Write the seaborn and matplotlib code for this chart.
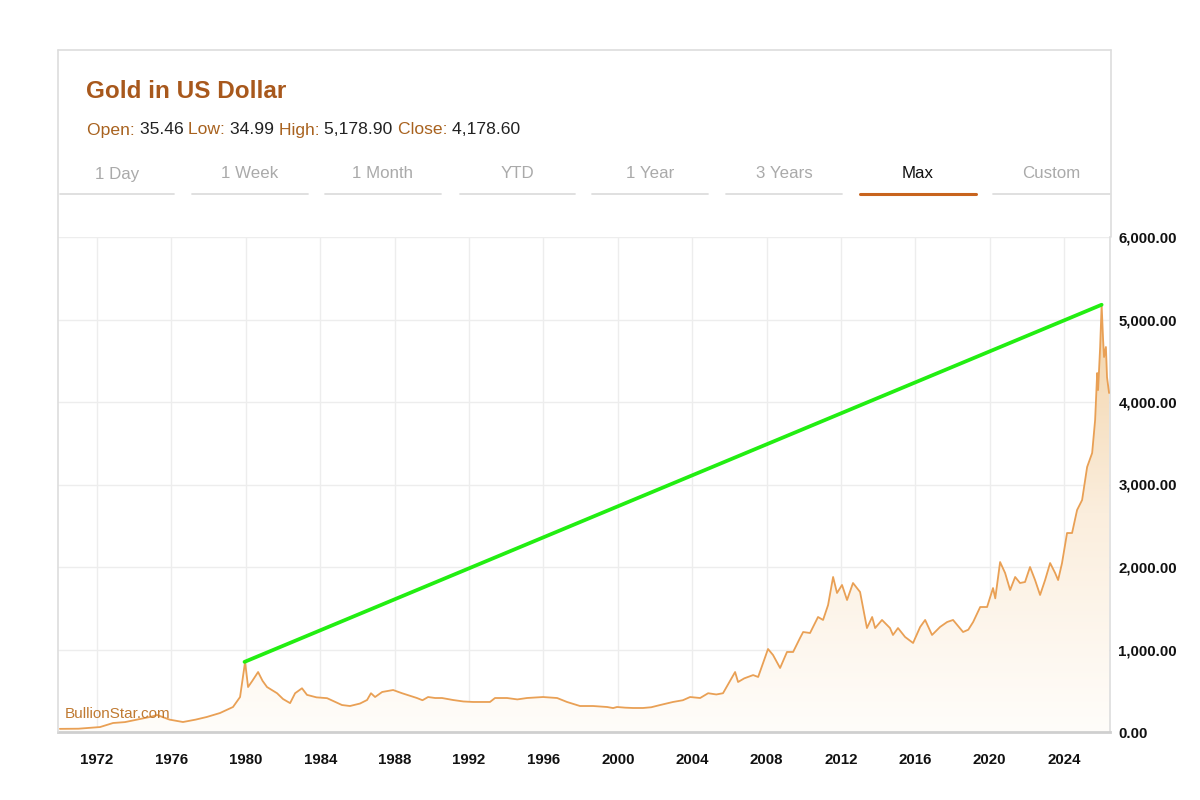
import numpy as np
import pandas as pd
import matplotlib
matplotlib.use("Agg")
import matplotlib.pyplot as plt
import seaborn as sns
from matplotlib.colors import LinearSegmentedColormap
from matplotlib.lines import Line2D

# ---------------- data ----------------
years = [1970.0, 1971.0, 1972.16, 1972.86, 1973.5, 1974.31, 1974.9, 1975.23, 1975.9, 1976.62,
         1977.3, 1977.9, 1978.61, 1979.31, 1979.69, 1979.96, 1980.12, 1980.35, 1980.66, 1980.9,
         1981.14, 1981.68, 1982.0, 1982.38, 1982.65, 1983.02, 1983.29, 1983.8, 1984.37, 1985.17,
         1985.6, 1986.14, 1986.52, 1986.73, 1986.95, 1987.33, 1987.92, 1988.4, 1989.2, 1989.5,
         1989.8, 1990.18, 1990.55, 1991.14, 1991.7, 1992.22, 1993.13, 1993.4, 1994.05, 1994.6,
         1995.12, 1995.98, 1996.74, 1997.27, 1997.97, 1998.67, 1999.43, 1999.75, 1999.96, 2000.4,
         2000.82, 2001.36, 2001.8, 2002.28, 2002.97, 2003.5, 2003.89, 2004.43, 2004.86, 2005.3,
         2005.66, 2006.31, 2006.47, 2006.8, 2007.28, 2007.55, 2008.08, 2008.35, 2008.73, 2009.1,
         2009.43, 2009.8, 2009.97, 2010.34, 2010.77, 2011.04, 2011.31, 2011.58, 2011.79, 2012.06,
         2012.33, 2012.65, 2013.03, 2013.4, 2013.68, 2013.84, 2014.21, 2014.64, 2014.8, 2015.07,
         2015.45, 2015.88, 2016.26, 2016.53, 2016.9, 2017.33, 2017.71, 2018.03, 2018.57, 2018.85,
         2019.11, 2019.49, 2019.86, 2020.18, 2020.3, 2020.56, 2020.83, 2021.1, 2021.37, 2021.63,
         2021.9, 2022.17, 2022.44, 2022.71, 2022.98, 2023.25, 2023.52, 2023.68, 2023.89, 2024.16,
         2024.43, 2024.7, 2024.97, 2025.24, 2025.51, 2025.67, 2025.78, 2025.83, 2025.94, 2026.02,
         2026.1, 2026.15, 2026.25, 2026.31, 2026.42]
prices = [38, 40, 60, 109, 120, 158, 185, 206, 150, 121,
          150, 182, 230, 303, 424, 850, 545, 620, 727, 620,
          545, 470, 400, 350, 470, 530, 450, 420, 410, 327,
          315, 345, 388, 470, 424, 485, 509, 470, 412, 385,
          424, 412, 412, 388, 370, 364, 364, 412, 412, 395,
          412, 424, 412, 364, 315, 315, 303, 290, 303, 295,
          291, 291, 300, 327, 364, 385, 424, 412, 470, 455,
          470, 727, 606, 650, 690, 667, 1006, 933, 776, 970,
          970, 1139, 1212, 1200, 1394, 1358, 1539, 1879, 1685, 1782,
          1600, 1806, 1697, 1260, 1394, 1260, 1358, 1260, 1176, 1260,
          1152, 1079, 1273, 1358, 1176, 1273, 1333, 1358, 1212, 1240,
          1333, 1515, 1515, 1745, 1620, 2060, 1927, 1721, 1879, 1806,
          1818, 2000, 1842, 1661, 1842, 2048, 1927, 1842, 2048, 2412,
          2412, 2691, 2812, 3212, 3382, 3782, 4351, 4145, 4667, 5178,
          4751, 4545, 4667, 4300, 4109]
trend_years = [1979.93, 2026.02]
trend_prices = [850, 5178.9]
x_ticks = [1972, 1976, 1980, 1984, 1988, 1992, 1996, 2000, 2004, 2008, 2012, 2016, 2020, 2024]
y_ticks = [0, 1000, 2000, 3000, 4000, 5000, 6000]
tabs = ["1 Day", "1 Week", "1 Month", "YTD", "1 Year", "3 Years", "Max", "Custom"]
title = "Gold in US Dollar"
stats_labels = ["Open:", "Low:", "High:", "Close:"]
stats_values = ["35.46", "34.99", "5,178.90", "4,178.60"]

df = pd.DataFrame({"year": years, "price": prices})
trend = pd.DataFrame({"year": trend_years, "price": trend_prices})

# ---------------- style ----------------
sns.set_theme(style="white")
plt.rcParams["font.family"] = ["Liberation Sans", "DejaVu Sans"]

W, H = 1200, 800
fig = plt.figure(figsize=(12, 8), dpi=100)
fig.patch.set_facecolor("white")

def fx(px):
    return px / W

def fy(py):
    return 1 - py / H

# axes: x from 58 to 1110 px, y from 237 to 732 px
ax = fig.add_axes([fx(58), fy(732), fx(1110 - 58), (732 - 237) / H])
ax.set_facecolor("white")

x0, x1 = 1969.90, 2026.47
ax.set_xlim(x0, x1)
ax.set_ylim(0, 6000)

# gradient area fill
fill = ax.fill_between(df["year"], df["price"], 0, color="none", lw=0)
cmap = LinearSegmentedColormap.from_list("goldfill", ["#FFFDFA", "#FBEEDD", "#F2D1A5"])
grad = np.linspace(0, 1, 256).reshape(-1, 1)
im = ax.imshow(grad, extent=[x0, x1, 0, 5300], origin="lower", aspect="auto",
               cmap=cmap, zorder=1)
im.set_clip_path(fill.get_paths()[0], transform=ax.transData)
ax.set_xlim(x0, x1)
ax.set_ylim(0, 6000)

sns.lineplot(data=df, x="year", y="price", ax=ax, color="#E9A055", lw=1.3,
             zorder=3, estimator=None, sort=False)
sns.lineplot(data=trend, x="year", y="price", ax=ax, color="#22EE11", lw=2.7,
             zorder=4, estimator=None, sort=False)

ax.set_xticks(x_ticks)
ax.set_xticklabels([str(t) for t in x_ticks])
ax.set_yticks(y_ticks)
ax.set_yticklabels([f"{v:,.2f}" for v in y_ticks])
ax.yaxis.tick_right()
ax.tick_params(axis="both", length=0, labelsize=10.8, labelcolor="#111111")
ax.tick_params(axis="x", pad=15)
ax.tick_params(axis="y", pad=6)
for lab in ax.get_xticklabels() + ax.get_yticklabels():
    lab.set_fontweight("bold")
ax.set_xlabel("")
ax.set_ylabel("")
ax.grid(True, color="#EDEDED", lw=1, zorder=0)
ax.set_axisbelow(True)
for s in ["top", "left"]:
    ax.spines[s].set_visible(False)
ax.spines["right"].set_color("#DDDDDD")
ax.spines["right"].set_linewidth(1.2)
ax.spines["bottom"].set_color("#CFCFCF")
ax.spines["bottom"].set_linewidth(2)

ax.text(7 / (1110 - 58), 0.022, "BullionStar.com", transform=ax.transAxes,
        fontsize=11, color="#C07A32", ha="left", va="bottom", zorder=5)

# ---------------- card frame ----------------
frame_c = "#DDDDDD"
fig.add_artist(Line2D([fx(58), fx(1111)], [fy(50), fy(50)], color=frame_c, lw=1.2))
fig.add_artist(Line2D([fx(58), fx(58)], [fy(50), fy(732)], color=frame_c, lw=1.2))
fig.add_artist(Line2D([fx(1111), fx(1111)], [fy(50), fy(237)], color=frame_c, lw=1.2))

# title + stats line
fig.text(fx(86), fy(91), title, fontsize=17.5, fontweight="bold", color="#A8581C",
         ha="left", va="center")

fig.canvas.draw()
renderer = fig.canvas.get_renderer()
xpos = fx(87)
for lab, val in zip(stats_labels, stats_values):
    for txt, col in [(lab + " ", "#A8621F"), (val + " ", "#222222")]:
        t = fig.text(xpos, fy(130), txt, fontsize=12.6, color=col, ha="left", va="center")
        bb = t.get_window_extent(renderer=renderer)
        xpos += bb.width / W

# tabs
tab_spans = [(60, 174), (192, 308), (325, 441), (460, 575), (592, 708), (726, 842),
             (860, 976), (993, 1110)]
for name, (a, b) in zip(tabs, tab_spans):
    active = name == "Max"
    fig.text(fx((a + b) / 2), fy(174), name, fontsize=12.2,
             color="#111111" if active else "#AAAAAA", ha="center", va="center")
    fig.add_artist(Line2D([fx(a), fx(b)], [fy(194), fy(194)],
                          color="#C8641E" if active else "#DDDDDD",
                          lw=2.2 if active else 1.3))

fig.savefig("out.png", dpi=100, facecolor="white")
